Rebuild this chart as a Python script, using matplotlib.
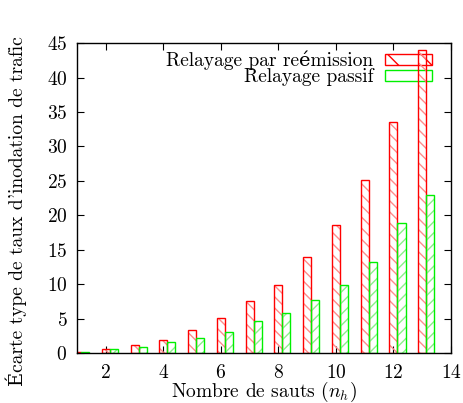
import matplotlib
matplotlib.use("Agg")
import matplotlib.pyplot as plt
from matplotlib.patches import Patch
import numpy as np

plt.rcParams['font.family'] = ['cmr10', 'DejaVu Serif']
plt.rcParams['mathtext.fontset'] = 'cm'
plt.rcParams['axes.formatter.use_mathtext'] = True
plt.rcParams['hatch.linewidth'] = 1.0

hops = [1, 2, 3, 4, 5, 6, 7, 8, 9, 10, 11, 12, 13]
reemission = [0.15, 0.63, 1.2, 1.95, 3.4, 5.15, 7.5, 9.9, 13.9, 18.65, 25.1, 33.5, 44.0]
passif = [0.1, 0.53, 0.92, 1.65, 2.25, 3.1, 4.6, 5.85, 7.75, 9.95, 13.2, 18.9, 23.0]

w = 0.28
x = np.array(hops)
red, red_h = '#ff0000', '#ff8c8c'
green, green_h = '#00f000', '#8cf08c'

fig = plt.figure(figsize=(4.64, 4.03), dpi=100)
ax = fig.add_axes([0.166, 0.124, 0.806, 0.769])

# hatch in a lighter tint, then the solid outline on top
ax.bar(x, reemission, width=w, facecolor='none', edgecolor=red_h,
       hatch='\\\\\\', linewidth=0, zorder=3)
ax.bar(x, reemission, width=w, facecolor='none', edgecolor=red,
       linewidth=1.0, zorder=3)
ax.bar(x + w, passif, width=w, facecolor='none', edgecolor=green_h,
       hatch='///', linewidth=0, zorder=3)
ax.bar(x + w, passif, width=w, facecolor='none', edgecolor=green,
       linewidth=1.0, zorder=3)

ax.set_xlim(1, 14)
ax.set_ylim(0, 45)
ax.set_xticks(range(2, 15, 2))
ax.set_yticks(range(0, 46, 5))
ax.tick_params(direction='in', top=True, right=True, length=5, width=0.8,
               labelsize=14)
ax.tick_params(axis='x', pad=8)
ax.tick_params(axis='y', pad=7)
for s in ax.spines.values():
    s.set_linewidth(1.0)
    s.set_zorder(4)

ax.set_xlabel('Nombre de sauts ($n_h$)', fontsize=14, labelpad=-1.5)
fig.text(0.036, 0.043, "Écarte type de taux d'inodation de trafic",
         rotation=90, ha='center', va='bottom', fontsize=14)

handles = [Patch(facecolor='none', edgecolor=red, hatch='\\', linewidth=1.0),
           Patch(facecolor='none', edgecolor=green, linewidth=1.0)]
leg = ax.legend(handles, ['Relayage par reémission', 'Relayage passif'],
                loc='upper right', bbox_to_anchor=(0.949, 0.975),
                frameon=False, markerfirst=False,
                fontsize=14, handlelength=2.4, handleheight=0.45,
                labelspacing=-0.1, handletextpad=0.6, borderaxespad=0,
                borderpad=0)
leg.set_zorder(1)

fig.savefig('out.png', dpi=100)
